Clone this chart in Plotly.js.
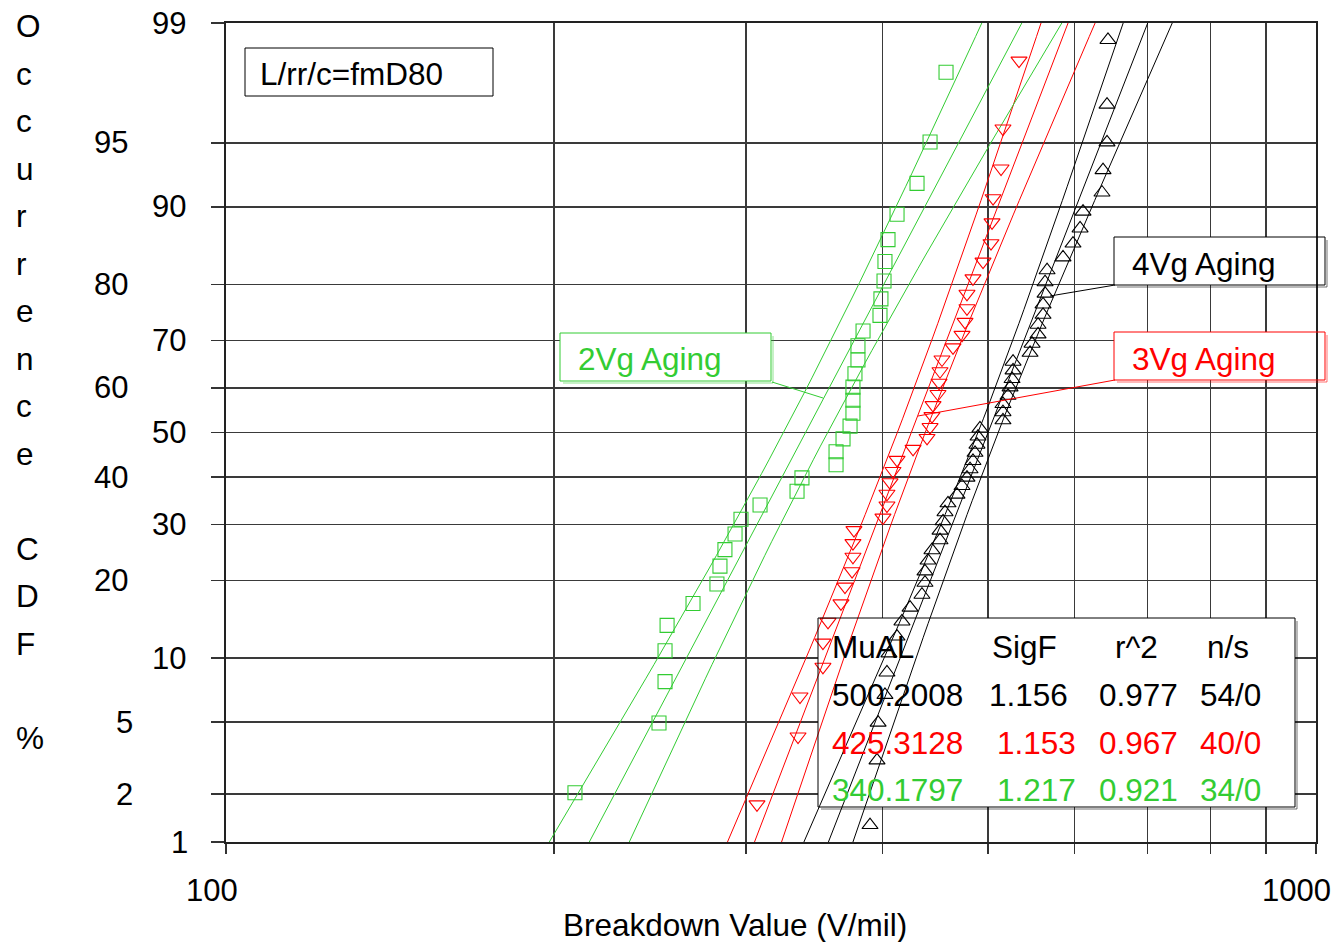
<!DOCTYPE html>
<html>
<head>
<meta charset="utf-8">
<script src="https://cdn.plot.ly/plotly-3.0.1.min.js"></script>
<style>html,body{margin:0;padding:0;background:#fff;}#chart{width:1335px;height:942px;}</style>
</head>
<body>
<div id="chart"></div>
<script>
// ---------------- DATA ----------------
const seriesNames = ['4Vg Aging', '3Vg Aging', '2Vg Aging'];
// Breakdown values (V/mil), sorted
const vg4 = [389.8, 395.6, 396.5, 402.3, 404.0, 405.7, 412.7, 417.0, 424.2, 435.0,
             437.8, 437.8, 440.6, 444.3, 451.9, 451.9, 454.8, 456.7, 459.6, 468.4,
             473.4, 478.4, 481.5, 484.5, 486.6, 488.6, 489.7, 491.7, 516.2, 516.2,
             516.2, 521.7, 524.0, 526.2, 527.3, 527.3, 546.6, 548.9, 555.9, 555.9,
             561.8, 561.8, 564.2, 564.2, 566.6, 586.0, 598.5, 607.5, 611.3, 636.3,
             637.7, 643.1, 643.1, 644.4];
const vg3 = [307.0, 334.8, 336.2, 352.9, 352.9, 356.7, 366.6, 369.7, 375.3, 376.0,
             376.0, 376.8, 400.6, 404.0, 404.0, 406.6, 409.2, 412.7, 426.9, 439.7,
             442.5, 444.3, 445.3, 450.0, 451.0, 451.9, 453.8, 464.5, 473.4, 476.4,
             478.4, 478.4, 484.5, 494.9, 503.3, 504.4, 505.5, 514.1, 516.2, 534.0];
const vg2 = [209.0, 249.6, 252.8, 252.8, 253.9, 268.2, 282.1, 283.9, 286.9, 293.1,
             296.8, 309.0, 334.1, 337.6, 362.8, 362.8, 368.2, 373.7, 376.0, 376.0,
             376.0, 377.6, 380.0, 380.0, 384.1, 398.1, 398.9, 401.5, 402.3, 404.9,
             412.7, 430.5, 442.5, 457.7];
// Fit table
const muAL = [500.2008, 425.3128, 340.1797];
const muText = ['500.2008', '425.3128', '340.1797'];
const sigF = [1.156, 1.153, 1.217];
const sigText = ['1.156', '1.153', '1.217'];
const r2Text = ['0.977', '0.967', '0.921'];
const nsText = ['54/0', '40/0', '34/0'];
// confidence-bound half widths (log10 units) at 50% and at 1%/99%
const ciMid = [0.0092, 0.0128, 0.0202];
const ciEnd = [0.0225, 0.0248, 0.0367];
// axes
const yTickPct = [1, 2, 5, 10, 20, 30, 40, 50, 60, 70, 80, 90, 95, 99];
const xTickVals = [100, 200, 300, 400, 500, 600, 700, 800, 900, 1000];
const xTickLabels = ['100', '1000'];
const tableHeader = ['MuAL', 'SigF', 'r^2', 'n/s'];
const noteText = 'L/rr/c=fmD80';
const xTitle = 'Breakdown Value (V/mil)';
const yTitle = 'Occurrence CDF %';

// ---------------- HELPERS ----------------
function probit(p) {
  const a = [-3.969683028665376e+01, 2.209460984245205e+02, -2.759285104469687e+02, 1.383577518672690e+02, -3.066479806614716e+01, 2.506628277459239e+00];
  const b = [-5.447609879822406e+01, 1.615858368580409e+02, -1.556989798598866e+02, 6.680131188771972e+01, -1.328068155288572e+01];
  const c = [-7.784894002430293e-03, -3.223964580411365e-01, -2.400758277161838e+00, -2.549732539343734e+00, 4.374664141464968e+00, 2.938163982698783e+00];
  const d = [7.784695709041462e-03, 3.224671290700398e-01, 2.445134137142996e+00, 3.754408661907416e+00];
  const pl = 0.02425, ph = 1 - pl;
  let q, r;
  if (p < pl) { q = Math.sqrt(-2 * Math.log(p)); return (((((c[0]*q+c[1])*q+c[2])*q+c[3])*q+c[4])*q+c[5]) / ((((d[0]*q+d[1])*q+d[2])*q+d[3])*q+1); }
  if (p <= ph) { q = p - 0.5; r = q*q; return (((((a[0]*r+a[1])*r+a[2])*r+a[3])*r+a[4])*r+a[5])*q / (((((b[0]*r+b[1])*r+b[2])*r+b[3])*r+b[4])*r+1); }
  q = Math.sqrt(-2 * Math.log(1 - p)); return -(((((c[0]*q+c[1])*q+c[2])*q+c[3])*q+c[4])*q+c[5]) / ((((d[0]*q+d[1])*q+d[2])*q+d[3])*q+1);
}
const zLo = probit(0.01), zHi = probit(0.99);

// layout geometry (pixels)
const W = 1335, H = 942, L = 226, R = 1316, T = 23, B = 842;
const px = x => (x - L) / (R - L);
const py = y => (B - y) / (B - T);
// pixel -> axis value (for white box backgrounds placed under the data)
const pxData = x => Math.pow(10, 2 + px(x));
const pyData = y => zLo + py(y) * (zHi - zLo);

const colors = ['#000000', '#ff0000', '#33cc33'];
const shadowColors = ['rgba(0,0,0,0.55)', 'rgba(255,0,0,0.55)', 'rgba(51,204,51,0.55)'];
const symbols = ['triangle-up-open', 'triangle-down-open', 'square-open'];
const dataSets = [vg4, vg3, vg2];
const FONT = 'Arial, "Liberation Sans", sans-serif';
const FS = 31.5;

const traces = [];
const ann = [];
const shapes = [];
function txt(text, x, y, color, anchor, size) {
  ann.push({text: text, xref: 'paper', yref: 'paper', x: px(x), y: py(y), xanchor: anchor || 'left', yanchor: 'middle',
            showarrow: false, font: {family: FONT, size: size || FS, color: color || '#000'}});
}
function seg(x0, y0, x1, y1, color, w) {
  shapes.push({type: 'line', xref: 'paper', yref: 'paper', x0: px(x0), x1: px(x1), y0: py(y0), y1: py(y1),
               line: {color: color, width: w || 1}});
}
function box(x0, y0, x1, y1, color, shadow) {
  // white background, drawn as a filled trace so it sits above the grid and below the data
  const cx1 = Math.min(x1, R);
  traces.push({type: 'scatter', mode: 'lines', fill: 'toself', fillcolor: '#ffffff', hoverinfo: 'skip', showlegend: false,
               x: [pxData(x0), pxData(cx1), pxData(cx1), pxData(x0), pxData(x0)],
               y: [pyData(y0), pyData(y0), pyData(y1), pyData(y1), pyData(y0)],
               line: {width: 0, color: 'rgba(0,0,0,0)'}});
  if (shadow) {
    seg(x1 + 2, y0 + 3, x1 + 2, y1 + 2, shadow, 1);
    seg(x0 + 3, y1 + 2, x1 + 2, y1 + 2, shadow, 1);
  }
  shapes.push({type: 'rect', xref: 'paper', yref: 'paper', x0: px(x0), x1: px(x1), y0: py(y1), y1: py(y0),
               line: {color: color, width: 1}});
}

// boxes (backgrounds first, so they lie under the data traces)
box(245, 48, 493, 96, '#000', null);
box(560, 333, 771, 381, colors[2], shadowColors[2]);
box(1114, 237, 1325, 285, colors[0], shadowColors[0]);
box(1114, 332, 1325, 380, colors[1], shadowColors[1]);
box(818, 618, 1295, 807, '#000', shadowColors[0]);

// ---------------- TRACES ----------------
for (let s = 0; s < 3; s++) {
  const zs = [];
  const steps = 60;
  for (let k = 0; k <= steps; k++) zs.push(zLo + (zHi - zLo) * k / steps);
  const lm = Math.log10(muAL[s]), ls = Math.log10(sigF[s]);
  const A = ciMid[s] * ciMid[s];
  const Bc = (ciEnd[s] * ciEnd[s] - A) / (zHi * zHi);
  const center = zs.map(z => Math.pow(10, lm + z * ls));
  const lower = zs.map(z => Math.pow(10, lm + z * ls - Math.sqrt(A + Bc * z * z)));
  const upper = zs.map(z => Math.pow(10, lm + z * ls + Math.sqrt(A + Bc * z * z)));
  [lower, center, upper].forEach(xs => traces.push({
    type: 'scatter', mode: 'lines', x: xs, y: zs, showlegend: false, hoverinfo: 'skip',
    line: {color: colors[s], width: 1}
  }));
}
for (let s = 0; s < 3; s++) {
  const vals = dataSets[s], n = vals.length;
  traces.push({
    type: 'scatter', mode: 'markers', name: seriesNames[s], showlegend: false,
    x: vals,
    y: vals.map((v, i) => probit((i + 1 - 0.3) / (n + 0.4))),
    marker: {symbol: symbols[s], size: 14, color: colors[s], line: {color: colors[s], width: 1.1}}
  });
}

// ---------------- TEXT ----------------
const yLabelRight = [190, 135, 135, 188, 130, 188, 130, 188, 130, 188, 130, 188, 130, 188];
yTickPct.forEach((p, i) => {
  const yy = B - (probit(p / 100) - zLo) / (zHi - zLo) * (B - T);
  txt(String(p), yLabelRight[i], yy, '#000', 'right', 31);
});
txt(xTickLabels[0], 212, 890, '#000', 'center', 31);
txt(xTickLabels[1], 1296, 890, '#000', 'center', 31);
txt(xTitle, 735, 925, '#000', 'center', FS);
Array.from(yTitle).forEach((ch, k) => {
  if (ch !== ' ') txt(ch, 14, 37 + 47.47 * k - 10.6, '#000', 'left', FS);
});

txt(noteText, 258, 74, '#000', 'left', FS);
txt(seriesNames[2], 576, 359, colors[2], 'left', FS);
seg(772, 382, 823, 398, colors[2]);
txt(seriesNames[0], 1130, 264, colors[0], 'left', FS);
seg(1115, 285, 1050, 296, colors[0]);
txt(seriesNames[1], 1130, 359, colors[1], 'left', FS);
seg(1115, 380, 918, 416, colors[1]);

const hdrX = [830, 990, 1113, 1205];
tableHeader.forEach((h, i) => txt(h, hdrX[i], 647, '#000', 'left', FS));
const rowY = [695, 743, 790];
const sigX = [987, 995, 995];
for (let s = 0; s < 3; s++) {
  txt(muText[s], 830, rowY[s], colors[s], 'left', FS);
  txt(sigText[s], sigX[s], rowY[s], colors[s], 'left', FS);
  txt(r2Text[s], 1097, rowY[s], colors[s], 'left', FS);
  txt(nsText[s], 1198, rowY[s], colors[s], 'left', FS);
}

const layout = {
  width: W, height: H,
  margin: {l: L, r: W - R, t: T, b: H - B, pad: 0},
  paper_bgcolor: '#ffffff', plot_bgcolor: '#ffffff',
  showlegend: false,
  font: {family: FONT, size: 30, color: '#000'},
  xaxis: {
    type: 'log', range: [2, 3], tickvals: xTickVals, showticklabels: false,
    ticks: 'outside', ticklen: 10, tickwidth: 1.3, tickcolor: '#333',
    showgrid: true, gridcolor: '#3a3a3a', gridwidth: 1.3,
    showline: true, mirror: true, linecolor: '#222', linewidth: 2, zeroline: false
  },
  yaxis: {
    type: 'linear', range: [zLo, zHi], tickvals: yTickPct.map(p => probit(p / 100)), showticklabels: false,
    ticks: 'outside', ticklen: 13, tickwidth: 1.3, tickcolor: '#333',
    showgrid: true, gridcolor: '#3a3a3a', gridwidth: 1.3,
    showline: true, mirror: true, linecolor: '#222', linewidth: 2, zeroline: false
  },
  annotations: ann,
  shapes: shapes
};

Plotly.newPlot('chart', traces, layout, {displayModeBar: false, staticPlot: true});
</script>
</body>
</html>
